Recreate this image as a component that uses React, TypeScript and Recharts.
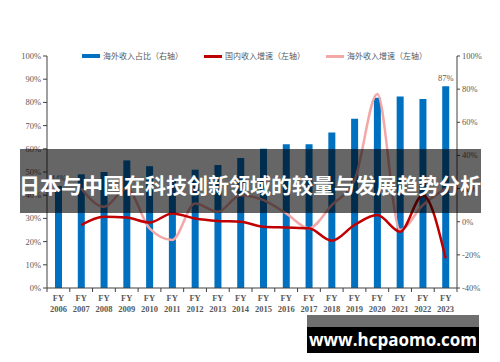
import React from 'react';
import { ComposedChart, Bar, Line, XAxis, YAxis, LabelList } from 'recharts';

const years = ['2006', '2007', '2008', '2009', '2010', '2011', '2012', '2013', '2014', '2015', '2016', '2017', '2018', '2019', '2020', '2021', '2022', '2023'];
const overseasShare = [44, 49, 50, 55, 52.5, 47, 51, 53, 56, 60, 62, 62, 67, 73, 82, 82.5, 81.5, 87];
const shareLabels = ['44%', '', '', '', '', '', '', '', '', '', '', '', '', '', '', '', '', '87%'];
const domesticGrowth = [null, -2, 3, 2.5, -0.5, 5, 2, 0.5, 0, -3, -3.5, -4, -11.5, -2, 4, -6, 16, -22];
const overseasGrowth = [null, 20, 9, 20, -4, -11, 11, 6, 16, 13, 5, -4, 10, 25, 77, -5, 10, 20];
const shareTicks = [0, 10, 20, 30, 40, 50, 60, 70, 80, 90, 100];
const growthTicks = [-40, -20, 0, 20, 40, 60, 80, 100];

const legendItems = [
  { name: '海外收入占比（右轴）', color: '#0070C0', h: 4 },
  { name: '国内收入增速（左轴）', color: '#C00000', h: 3 },
  { name: '海外收入增速（左轴）', color: '#F4A7A7', h: 3 },
];

const data = years.map((y, i) => ({
  year: y,
  share: overseasShare[i],
  label: shareLabels[i],
  domestic: domesticGrowth[i],
  overseas: overseasGrowth[i],
}));

const PLOT_W = 410;
const axisColor = '#404040';
const textColor = '#595959';
const serif = '"Liberation Serif", "Times New Roman", serif';

const YearTick = (props: any) => {
  const { x, y, payload, index } = props;
  const band = PLOT_W / years.length;
  const left = x - band / 2;
  return (
    <g>
      <line x1={left} y1={y} x2={left} y2={y + 4} stroke={axisColor} />
      {index === years.length - 1 && (
        <line x1={left + band} y1={y} x2={left + band} y2={y + 4} stroke={axisColor} />
      )}
      <text x={x} y={y + 13} textAnchor="middle" fontSize={8.5} fontWeight="bold" fontFamily={serif} fill={textColor}>FY</text>
      <text x={x} y={y + 24} textAnchor="middle" fontSize={8.5} fontWeight="bold" fontFamily={serif} fill={textColor}>{payload.value}</text>
    </g>
  );
};

const App: React.FC = () => {
  return (
    <div style={{ position: 'relative', width: 500, height: 362, background: '#fff', overflow: 'hidden' }}>
      <style>{'body{margin:0}'}</style>
      <ComposedChart width={500} height={362} data={data} margin={{ top: 56, right: 0, bottom: 44, left: 0 }}>
        <XAxis
          dataKey="year"
          height={30}
          tickLine={false}
          tickSize={0}
          tickMargin={0}
          interval={0}
          axisLine={{ stroke: axisColor }}
          tick={<YearTick />}
        />
        <YAxis
          yAxisId="share"
          orientation="left"
          width={47}
          domain={[0, 100]}
          ticks={shareTicks}
          interval={0}
          tickSize={4}
          tickFormatter={(v: number) => `${v}%`}
          axisLine={{ stroke: axisColor }}
          tickLine={{ stroke: axisColor }}
          tick={{ fontSize: 8.5, fontFamily: serif, fill: textColor }}
        />
        <YAxis
          yAxisId="growth"
          orientation="right"
          width={43}
          domain={[-40, 100]}
          ticks={growthTicks}
          interval={0}
          tickSize={3}
          tickFormatter={(v: number) => `${v}%`}
          axisLine={{ stroke: axisColor }}
          tickLine={{ stroke: axisColor }}
          tick={{ fontSize: 8.5, fontFamily: serif, fill: textColor }}
        />
        <Bar yAxisId="share" dataKey="share" fill="#0070C0" barSize={7} isAnimationActive={false}>
          <LabelList dataKey="label" position="top" offset={5} fontSize={8.5} fontFamily={serif} fill={textColor} />
        </Bar>
        <Line yAxisId="growth" type="monotone" dataKey="overseas" stroke="#F4A7A7" strokeWidth={2.5} dot={false} isAnimationActive={false} />
        <Line yAxisId="growth" type="monotone" dataKey="domestic" stroke="#C00000" strokeWidth={2.5} dot={false} isAnimationActive={false} />
      </ComposedChart>

      <div style={{ position: 'absolute', left: 82, top: 50, display: 'flex', alignItems: 'center', gap: 21 }}>
        {legendItems.map((it) => (
          <div key={it.name} style={{ display: 'flex', alignItems: 'center' }}>
            <span style={{ display: 'inline-block', width: 18, height: it.h, background: it.color, marginRight: 3 }} />
            <span style={{ fontSize: 8, lineHeight: '12px', color: textColor, fontFamily: '"Noto Sans CJK SC", sans-serif', whiteSpace: 'nowrap' }}>{it.name}</span>
          </div>
        ))}
      </div>

      <div style={{ position: 'absolute', left: 20, top: 149, width: 461, height: 64, background: 'rgba(0,0,0,0.6)' }} />
      <div style={{ position: 'absolute', left: 0, top: 172, width: 500, textAlign: 'center', fontSize: 21, lineHeight: '24px', fontWeight: 'bold', color: '#fff', fontFamily: '"Noto Sans CJK SC", sans-serif', whiteSpace: 'nowrap' }}>
        日本与中国在科技创新领域的较量与发展趋势分析
      </div>

      <div style={{ position: 'absolute', left: 307, top: 315, width: 172, height: 12, background: '#6f6f6f' }} />
      <div style={{ position: 'absolute', left: 307, top: 327, width: 172, height: 26, background: '#000', color: '#fff', fontFamily: '"Open Sans", sans-serif', fontWeight: 'bold', fontSize: 17, lineHeight: '26px', textAlign: 'center' }}>
        www.hcpaomo.com
      </div>
    </div>
  );
};

export default App;
